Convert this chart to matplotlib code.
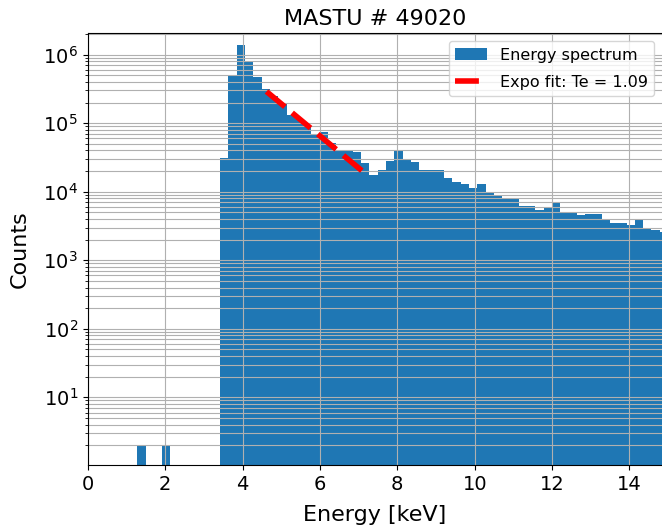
import matplotlib
matplotlib.use("Agg")
import matplotlib.pyplot as plt
import numpy as np

# histogram bins (keV)
bin_start = 1.28
bin_width = 0.2143

# counts per bin
counts = [2, 0, 0, 2, 0, 0, 0, 0, 0, 0,
          3.1e4, 5.1e5, 1.4e6, 7.8e5, 4.8e5, 3.15e5, 2.5e5, 1.9e5, 1.3e5, 1.15e5,
          9.3e4, 7.0e4, 7.4e4, 5.2e4, 4.0e4, 3.9e4, 3.8e4, 2.6e4, 1.75e4, 2.1e4,
          2.8e4, 3.9e4, 2.95e4, 2.7e4, 2.1e4, 2.05e4, 2.1e4, 1.56e4, 1.39e4, 1.29e4,
          1.15e4, 1.28e4, 9.6e3, 8.6e3, 8.2e3, 8.2e3, 6.2e3, 6.2e3, 5.5e3, 5.9e3,
          6.9e3, 5.1e3, 5.1e3, 4.6e3, 4.8e3, 4.8e3, 3.95e3, 3.45e3, 3.45e3, 3.3e3,
          3.9e3, 3.0e3, 2.75e3, 2.6e3, 2.5e3]

# exponential fit (straight on log axis)
fit_energy = [4.62, 7.12]
fit_counts = [2.9e5, 1.95e4]
Te = 1.09

y_major = [1e1, 1e2, 1e3, 1e4, 1e5, 1e6]
x_major = [0, 2, 4, 6, 8, 10, 12, 14]

edges = bin_start + bin_width * np.arange(len(counts) + 1)
centers = edges[:-1] + bin_width / 2

fig = plt.figure(figsize=(6.62, 5.31), dpi=100)
ax = fig.add_axes([0.1325, 0.1243, 0.8675, 0.813])

ax.hist(centers, bins=edges, weights=counts, color='#1f77b4', log=True,
        label='Energy spectrum')
ax.plot(fit_energy, fit_counts, color='red', lw=4, linestyle=(0, (4.3, 1.7)),
        label=f'Expo fit: Te = {Te}')

ax.set_yscale('log')
ax.set_yticks(y_major)
ax.set_xticks(x_major)
ax.set_xlim(0, 14.84)
ax.set_ylim(1.03, 2.05e6)
ax.grid(True, which='both')
ax.spines['right'].set_visible(False)

ax.tick_params(axis='both', which='major', labelsize=14)
ax.set_xlabel('Energy [keV]', fontsize=16, labelpad=8)
ax.set_ylabel('Counts', fontsize=16, labelpad=10)
ax.set_title('MASTU # 49020', fontsize=16)
ax.legend(loc='upper right', fontsize=11.5, labelspacing=0.75)

fig.savefig('out.png', dpi=100)
